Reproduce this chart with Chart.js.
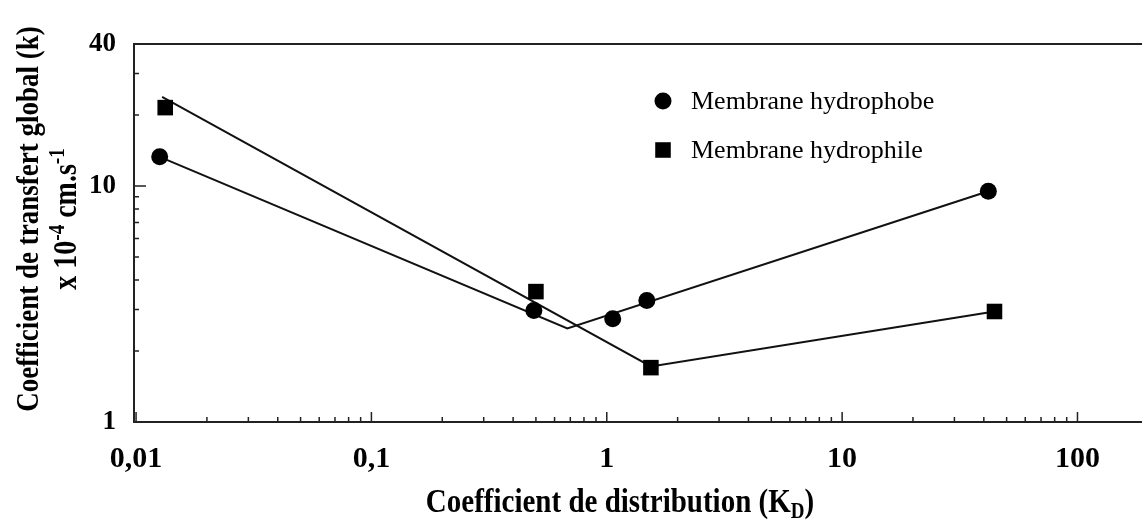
<!DOCTYPE html>
<html>
<head>
<meta charset="utf-8">
<script src="https://cdn.jsdelivr.net/npm/chart.js@4.4.0/dist/chart.umd.min.js"></script>
<style>
    html, body { margin: 0; padding: 0; background: #fff; }
    canvas { display: block; }
</style>
</head>
<body>
<canvas id="kdChart" width="1142" height="522"></canvas>
<script>
// Coefficient de transfert global k vs coefficient de distribution KD
const kdHydrophobe = [0.0126, 0.49, 1.06, 1.48, 41.8];
const kHydrophobe = [13.3, 2.97, 2.74, 3.27, 9.5];
const kdHydrophile = [0.0133, 0.50, 1.54, 44.4];
const kHydrophile = [21.5, 3.57, 1.70, 2.94];

// two-segment trend lines drawn through each series
const kdFitHydrophobe = [0.0126, 0.68, 41.8];
const kFitHydrophobe = [13.3, 2.49, 9.5];
const kdFitHydrophile = [0.0129, 1.54, 44.4];
const kFitHydrophile = [23.9, 1.72, 2.94];

const xTickValues = [0.01, 0.1, 1, 10, 100];
const yTickValues = [1, 10, 40];
const yMinorTicks = [2, 3, 4, 5, 6, 7, 8, 9, 20, 30];

const serif = "'Liberation Serif', 'Times New Roman', serif";
const ink = '#000';

function toPoints(xs, ys) {
    return xs.map((x, i) => ({ x: x, y: ys[i] }));
}

function formatTick(value) {
    return String(value).replace('.', ',');
}

function buildMinorX() {
    const ticks = [];
    for (let decade = 0.01; decade < 100; decade *= 10) {
        for (let m = 2; m <= 9; m++) {
            ticks.push(+(m * decade).toPrecision(2));
        }
    }
    return ticks;
}

// draws text pieces with super/subscripts, centred on x = 0;
// glyphs are drawn a little taller than wide, like the printed titles
function drawRichText(ctx, parts, baseSize, y) {
    const stretch = 1.18;
    const widths = parts.map(p => {
        ctx.font = 'bold ' + (p.shift ? 19 : baseSize) + 'px ' + serif;
        return ctx.measureText(p.text).width;
    });
    const total = widths.reduce((a, b) => a + b, 0);
    let x = -total / 2;
    ctx.save();
    ctx.scale(1, stretch);
    parts.forEach((p, i) => {
        ctx.font = 'bold ' + (p.shift ? 19 : baseSize) + 'px ' + serif;
        ctx.fillText(p.text, x, (y + (p.shift || 0)) / stretch);
        x += widths[i];
    });
    ctx.restore();
}

const axisDecor = {
    id: 'axisDecor',
    afterDraw(chart) {
        const ctx = chart.ctx;
        const area = chart.chartArea;
        const xs = chart.scales.x;
        const ys = chart.scales.y;

        ctx.save();
        ctx.strokeStyle = '#222';
        ctx.fillStyle = ink;

        // top frame line
        ctx.lineWidth = 2;
        ctx.beginPath();
        ctx.moveTo(area.left, area.top);
        ctx.lineTo(area.right, area.top);
        ctx.stroke();

        // inward tick marks
        ctx.lineWidth = 1.5;
        ctx.beginPath();
        buildMinorX().forEach(v => {
            const px = xs.getPixelForValue(v);
            ctx.moveTo(px, area.bottom);
            ctx.lineTo(px, area.bottom - 5);
        });
        xTickValues.forEach(v => {
            const px = xs.getPixelForValue(v);
            ctx.moveTo(px, area.bottom);
            ctx.lineTo(px, area.bottom - 10);
        });
        yMinorTicks.forEach(v => {
            const py = ys.getPixelForValue(v);
            ctx.moveTo(area.left, py);
            ctx.lineTo(area.left + 5, py);
        });
        const py10 = ys.getPixelForValue(10);
        ctx.moveTo(area.left, py10);
        ctx.lineTo(area.left + 12, py10);
        ctx.stroke();

        // axis titles
        ctx.textBaseline = 'alphabetic';
        ctx.textAlign = 'left';
        ctx.save();
        ctx.translate(620, 512);
        drawRichText(ctx, [
            { text: 'Coefficient de distribution (K' },
            { text: 'D', shift: 6 },
            { text: ')' }
        ], 29, 0);
        ctx.restore();

        ctx.save();
        ctx.translate(38, 219);
        ctx.rotate(-Math.PI / 2);
        drawRichText(ctx, [{ text: 'Coefficient de transfert global (k)' }], 27, 0);
        ctx.restore();

        ctx.save();
        ctx.translate(76, 219);
        ctx.rotate(-Math.PI / 2);
        drawRichText(ctx, [
            { text: 'x 10' },
            { text: '-4', shift: -12 },
            { text: ' cm.s' },
            { text: '-1', shift: -12 }
        ], 28, 0);
        ctx.restore();

        // legend
        const legendItems = chart.data.datasets.filter(d => d.inLegend);
        ctx.textBaseline = 'middle';
        ctx.font = '26px ' + serif;
        legendItems.forEach((d, i) => {
            const y = 101 + i * 49;
            ctx.fillStyle = ink;
            Chart.helpers.drawPoint(ctx, {
                pointStyle: d.pointStyle,
                radius: d.pointRadius,
                rotation: 0,
                borderWidth: 0
            }, 663, y);
            ctx.fillText(d.label, 691, y + 1);
        });
        ctx.restore();
    }
};

const chart = new Chart(document.getElementById('kdChart'), {
    type: 'scatter',
    data: {
        datasets: [{
            label: 'Membrane hydrophobe',
            inLegend: true,
            data: toPoints(kdHydrophobe, kHydrophobe),
            pointStyle: 'circle',
            pointRadius: 8.5,
            backgroundColor: ink,
            borderWidth: 0,
            showLine: false
        }, {
            label: 'Membrane hydrophile',
            inLegend: true,
            data: toPoints(kdHydrophile, kHydrophile),
            pointStyle: 'rect',
            pointRadius: 11,
            backgroundColor: ink,
            borderWidth: 0,
            showLine: false
        }, {
            label: 'fit hydrophobe',
            data: toPoints(kdFitHydrophobe, kFitHydrophobe),
            showLine: true,
            pointRadius: 0,
            borderColor: '#111',
            borderWidth: 2
        }, {
            label: 'fit hydrophile',
            data: toPoints(kdFitHydrophile, kFitHydrophile),
            showLine: true,
            pointRadius: 0,
            borderColor: '#111',
            borderWidth: 2
        }]
    },
    options: {
        responsive: false,
        animation: false,
        devicePixelRatio: 1,
        layout: {
            autoPadding: false,
            padding: { top: 44, left: 0, right: 0, bottom: 0 }
        },
        plugins: {
            legend: { display: false },
            tooltip: { enabled: false }
        },
        scales: {
            x: {
                type: 'logarithmic',
                position: 'bottom',
                min: 0.0098,
                max: 188,
                grid: { display: false, drawTicks: false },
                border: { display: true, color: '#222', width: 2 },
                ticks: {
                    color: ink,
                    padding: 19,
                    autoSkip: false,
                    maxRotation: 0,
                    font: { family: serif, size: 30, weight: 'bold' },
                    callback: value => formatTick(value)
                },
                afterBuildTicks: scale => {
                    scale.ticks = xTickValues.map(v => ({ value: v }));
                },
                afterFit: scale => {
                    scale.height = 100;
                    scale.paddingLeft = 0;
                    scale.paddingRight = 0;
                }
            },
            y: {
                type: 'logarithmic',
                position: 'left',
                min: 1,
                max: 40,
                grid: { display: false, drawTicks: false },
                border: { display: true, color: '#222', width: 2 },
                ticks: {
                    color: ink,
                    padding: 18,
                    font: { family: serif, size: 27, weight: 'bold' },
                    callback: value => formatTick(value)
                },
                afterBuildTicks: scale => {
                    scale.ticks = yTickValues.map(v => ({ value: v }));
                },
                afterFit: scale => {
                    scale.width = 134;
                }
            }
        }
    },
    plugins: [axisDecor]
});
</script>
</body>
</html>
